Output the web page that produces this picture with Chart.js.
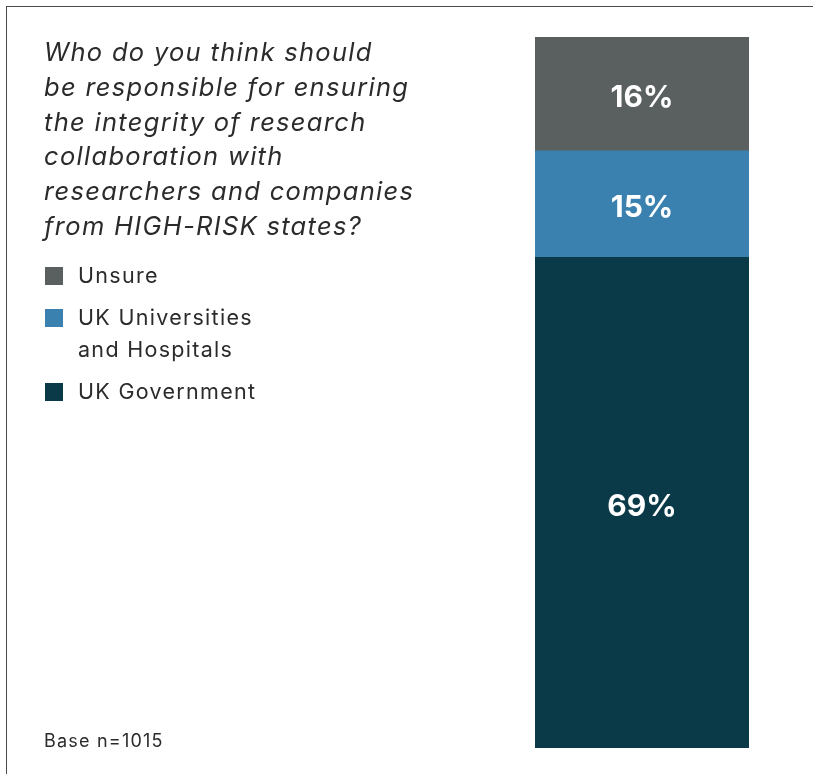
<!DOCTYPE html>
<html>
<head>
<meta charset="utf-8">
<script src="https://cdn.jsdelivr.net/npm/chart.js@4.4.1/dist/chart.umd.min.js"></script>
<style>
  html, body { margin: 0; padding: 0; background: #fff; }
  #wrap { position: relative; width: 813px; height: 774px; overflow: hidden; }
  #frame {
    position: absolute; left: 6px; top: 6px; right: -2px; bottom: -2px;
    border-left: 1.5px solid #4a4a4a; border-top: 1.5px solid #4a4a4a;
  }
  canvas { position: absolute; left: 0; top: 0; }
  .question {
    position: absolute; left: 44px; top: 35px; margin: 0;
    font-family: Inter, "Open Sans", sans-serif; font-style: italic;
    font-size: 25.5px; line-height: 34.8px; letter-spacing: 1.3px;
    color: #2b2b2b; font-weight: 400;
  }
  .legend { position: absolute; left: 45px; top: 259px; font-family: Inter, "Open Sans", sans-serif; }
  .legend .item { position: relative; padding-left: 33px; font-size: 21.5px; line-height: 32px; letter-spacing: 1.3px; color: #2b2b2b; margin-bottom: 10px; }
  .legend .swatch { position: absolute; left: 0; top: 8px; width: 18px; height: 18px; }
  .base {
    position: absolute; left: 44px; top: 730px;
    font-family: Inter, "Open Sans", sans-serif; font-size: 18px; letter-spacing: 1.2px; color: #2b2b2b;
  }
</style>
</head>
<body>
<div id="wrap">
  <div id="frame"></div>
  <canvas id="chart" width="813" height="774"></canvas>
  <p class="question">Who do you think should<br>be responsible for ensuring<br>the integrity of research<br>collaboration with<br>researchers and companies<br>from HIGH-RISK states?</p>
  <div class="legend" id="legend"></div>
  <div class="base">Base n=1015</div>
</div>
<script>
// stacked from the bottom up
const categories = [''];
const seriesNames = ['UK Government', 'UK Universities\nand Hospitals', 'Unsure'];
const seriesValues = [[69], [15], [16]];
const seriesColors = ['#0a3948', '#3b81b0', '#5a5f5f'];

// legend lists the top segment first
const legendEl = document.getElementById('legend');
for (let i = seriesNames.length - 1; i >= 0; i--) {
    const item = document.createElement('div');
    item.className = 'item';
    const sw = document.createElement('span');
    sw.className = 'swatch';
    sw.style.background = seriesColors[i];
    item.appendChild(sw);
    seriesNames[i].split('\n').forEach((line, k) => {
        if (k) item.appendChild(document.createElement('br'));
        item.appendChild(document.createTextNode(line));
    });
    legendEl.appendChild(item);
}

// white percentage labels in the middle of each segment
const segmentLabels = {
    id: 'segmentLabels',
    afterDatasetsDraw(chart) {
        const ctx = chart.ctx;
        ctx.save();
        ctx.fillStyle = '#ffffff';
        ctx.font = 'bold 30px Inter, "Open Sans", sans-serif';
        ctx.textAlign = 'center';
        ctx.textBaseline = 'middle';
        chart.data.datasets.forEach((ds, i) => {
            chart.getDatasetMeta(i).data.forEach((bar, j) => {
                const mid = (bar.y + bar.base) / 2;
                ctx.fillText(ds.data[j] + '%', bar.x, mid + 4);
            });
        });
        ctx.restore();
    }
};

new Chart(document.getElementById('chart'), {
    type: 'bar',
    data: {
        labels: categories,
        datasets: seriesNames.map((name, i) => ({
            label: name,
            data: seriesValues[i],
            backgroundColor: seriesColors[i],
            borderWidth: 0,
            categoryPercentage: 1,
            barPercentage: 1
        }))
    },
    options: {
        responsive: false,
        animation: false,
        layout: { padding: { left: 535, right: 64, top: 37, bottom: 26 } },
        plugins: { legend: { display: false }, tooltip: { enabled: false } },
        scales: {
            x: { stacked: true, display: false },
            y: { stacked: true, display: false, min: 0, max: 100 }
        }
    },
    plugins: [segmentLabels]
});
</script>
</body>
</html>
